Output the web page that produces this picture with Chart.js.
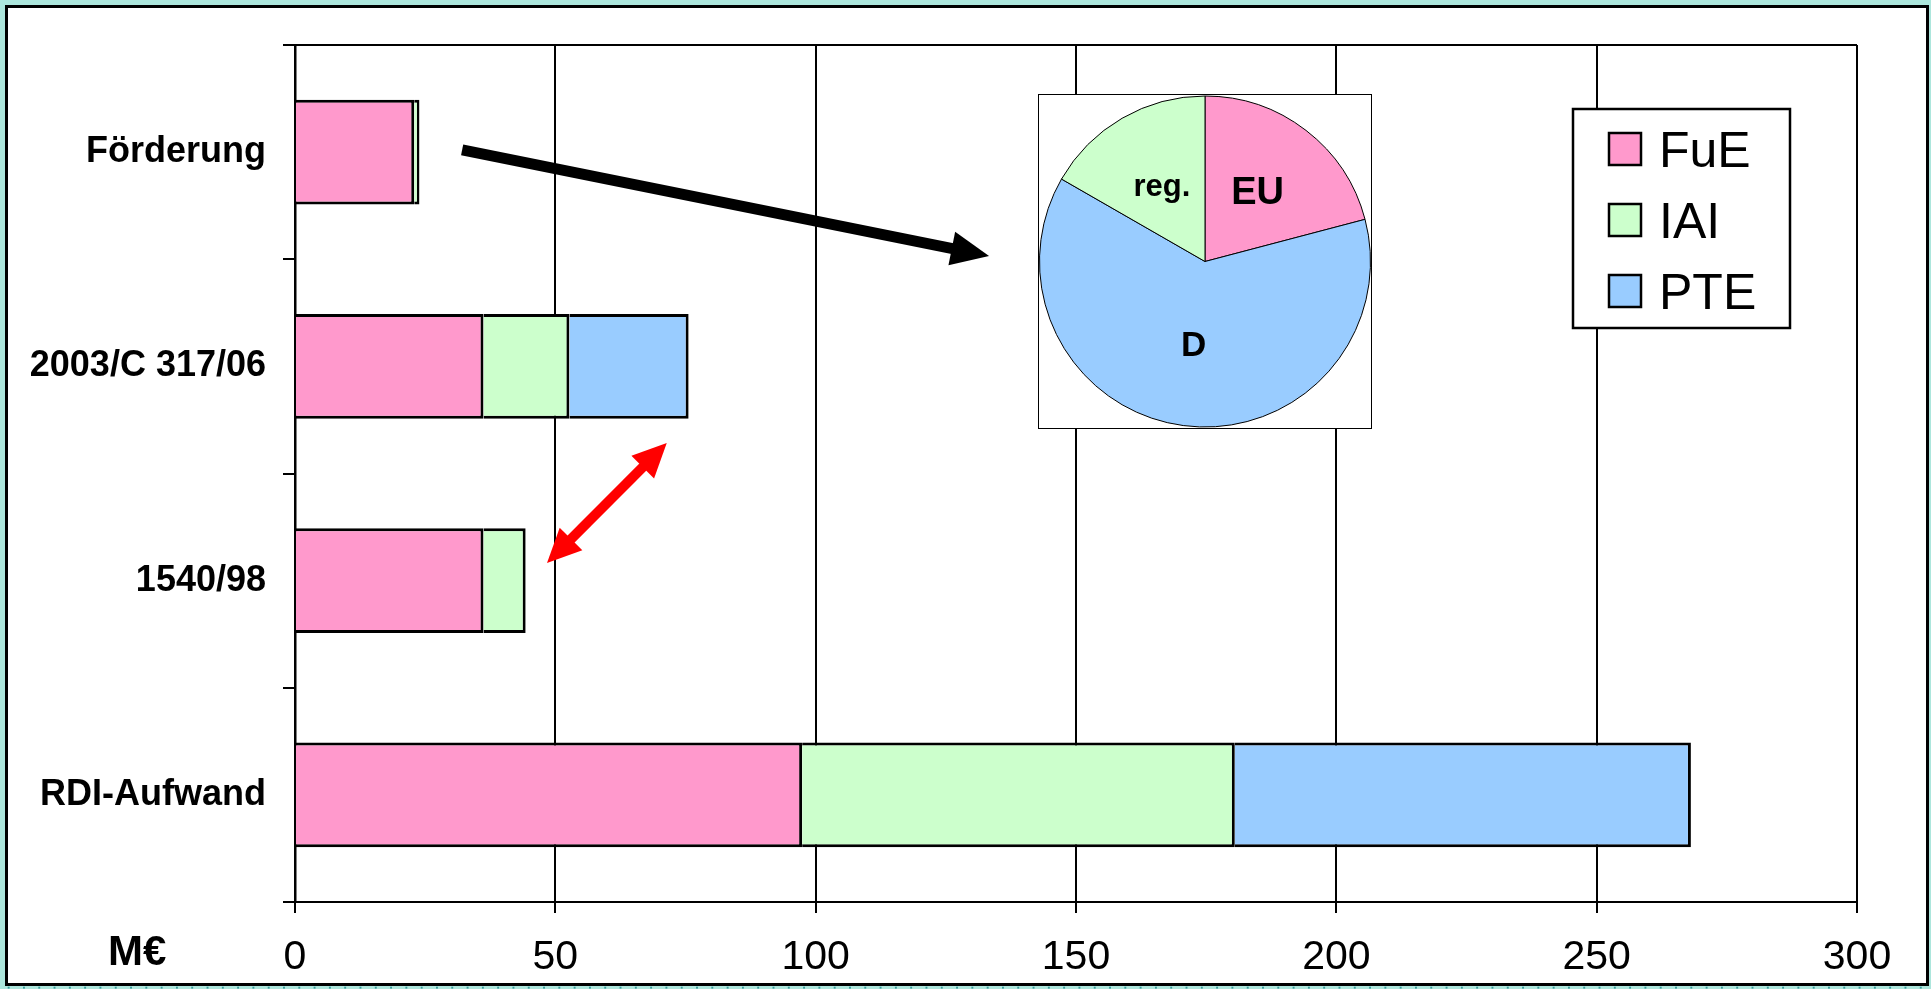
<!DOCTYPE html>
<html>
<head>
<meta charset="utf-8">
<script src="https://cdn.jsdelivr.net/npm/chart.js@4.4.1/dist/chart.umd.min.js"></script>
<style>
  html, body { margin: 0; padding: 0; width: 1931px; height: 989px; overflow: hidden; }
  body {
    background-color: #ace6dc;
    background-image: radial-gradient(circle, #3b9a9a 0.9px, transparent 1.4px);
    background-size: 15.3px 15.3px;
    background-position: 1px 1px;
    font-family: "Liberation Sans", Arial, sans-serif;
  }
  #frame { position: absolute; left: 5px; top: 5px; width: 1918px; height: 975px; border: 3px solid #000; background: #fff; }
  #main { position: absolute; left: 0; top: 0; }
  #pieBox { position: absolute; left: 1038px; top: 94px; width: 332px; height: 333px; border: 1px solid #000; background: #fff; z-index: 2; }
  #pie { display: block; }
</style>
</head>
<body>
<div id="frame"></div>
<canvas id="main" width="1931" height="989"></canvas>
<div id="pieBox"><canvas id="pie" width="332" height="333"></canvas></div>
<script>
// Funding categories (top to bottom) and stacked amounts in M€
const categories = ['Förderung', '2003/C 317/06', '1540/98', 'RDI-Aufwand'];
const seriesNames = ['FuE', 'IAI', 'PTE'];
const fueValues = [22.9, 36.2, 36.2, 97.4];
const iaiValues = [1.0, 16.5, 8.1, 83.1];
const pteValues = [null, 22.9, null, 87.6];
const xTickValues = [0, 50, 100, 150, 200, 250, 300];

// Funding sources share (inset pie)
const pieLabels = ['EU', 'D', 'reg.'];
const pieValues = [20.9, 62.4, 16.7];

const FONT = '"Liberation Sans", Arial, sans-serif';
const PINK = '#ff99cc', GREEN = '#ccffcc', BLUE = '#99ccff';
const seriesColors = [PINK, GREEN, BLUE];
const pieColors = [PINK, BLUE, GREEN];

// Arrow annotations in data space: x in M€, y as category index
const arrows = [
  { from: { x: 32.1, y: -0.01 }, to: { x: 133.3, y: 0.485 }, color: '#000000', shaft: 11, headLen: 38, headHalf: 17, both: false },
  { from: { x: 48.4, y: 1.918 }, to: { x: 71.4, y: 1.358 }, color: '#ff0000', shaft: 10, headLen: 34, headHalf: 16, both: true }
];

function arrowHead(ctx, tx, ty, ux, uy, len, half) {
  const bx = tx - ux * len, by = ty - uy * len;
  const px = -uy, py = ux;
  ctx.beginPath();
  ctx.moveTo(tx, ty);
  ctx.lineTo(bx + px * half, by + py * half);
  ctx.lineTo(bx - px * half, by - py * half);
  ctx.closePath();
  ctx.fill();
}

function drawArrow(ctx, x1, y1, x2, y2, a) {
  const dx = x2 - x1, dy = y2 - y1;
  const L = Math.hypot(dx, dy);
  const ux = dx / L, uy = dy / L;
  const sx = a.both ? x1 + ux * (a.headLen - 2) : x1;
  const sy = a.both ? y1 + uy * (a.headLen - 2) : y1;
  const ex = x2 - ux * (a.headLen - 2), ey = y2 - uy * (a.headLen - 2);
  ctx.save();
  ctx.strokeStyle = a.color;
  ctx.fillStyle = a.color;
  ctx.lineWidth = a.shaft;
  ctx.lineCap = 'butt';
  ctx.beginPath();
  ctx.moveTo(sx, sy);
  ctx.lineTo(ex, ey);
  ctx.stroke();
  arrowHead(ctx, x2, y2, ux, uy, a.headLen, a.headHalf);
  if (a.both) arrowHead(ctx, x1, y1, -ux, -uy, a.headLen, a.headHalf);
  ctx.restore();
}

const decorPlugin = {
  id: 'decor',
  afterDraw(chart) {
    const ctx = chart.ctx;
    const area = chart.chartArea;
    const xs = chart.scales.x, ys = chart.scales.y;

    // top edge of the plot box
    ctx.save();
    ctx.strokeStyle = '#000';
    ctx.lineWidth = 2;
    ctx.beginPath();
    ctx.moveTo(area.left - 12, area.top);
    ctx.lineTo(area.right, area.top);
    ctx.stroke();
    ctx.restore();

    // unit label
    ctx.save();
    ctx.fillStyle = '#000';
    ctx.font = 'bold 42px ' + FONT;
    ctx.textAlign = 'left';
    ctx.textBaseline = 'alphabetic';
    ctx.fillText('M€', 108, 965);
    ctx.restore();

    // arrows
    arrows.forEach(a => {
      drawArrow(ctx,
        xs.getPixelForValue(a.from.x), ys.getPixelForValue(a.from.y),
        xs.getPixelForValue(a.to.x), ys.getPixelForValue(a.to.y), a);
    });

    // legend box
    const box = { left: 1573, top: 109, width: 217, height: 219 };
    ctx.save();
    ctx.fillStyle = '#fff';
    ctx.fillRect(box.left, box.top, box.width, box.height);
    ctx.strokeStyle = '#000';
    ctx.lineWidth = 2.5;
    ctx.strokeRect(box.left, box.top, box.width, box.height);
    ctx.font = '50px ' + FONT;
    ctx.textAlign = 'left';
    ctx.textBaseline = 'alphabetic';
    chart.data.datasets.forEach((ds, i) => {
      const cy = 149 + i * 71;
      ctx.fillStyle = ds.backgroundColor;
      ctx.fillRect(1609, cy - 16, 32, 32);
      ctx.lineWidth = 2.5;
      ctx.strokeStyle = '#000';
      ctx.strokeRect(1609, cy - 16, 32, 32);
      ctx.fillStyle = '#000';
      ctx.fillText(ds.label, 1659, cy + 18);
    });
    ctx.restore();
  }
};

const mainChart = new Chart(document.getElementById('main'), {
  type: 'bar',
  data: {
    labels: categories,
    datasets: [fueValues, iaiValues, pteValues].map((vals, i) => ({
      label: seriesNames[i],
      data: vals,
      backgroundColor: seriesColors[i],
      borderColor: '#000',
      borderWidth: 3,
      borderSkipped: 'start',
      categoryPercentage: 0.49,
      barPercentage: 1.0
    }))
  },
  options: {
    indexAxis: 'y',
    responsive: false,
    animation: false,
    devicePixelRatio: 1,
    layout: { padding: { top: 45, right: 74, bottom: 0, left: 0 } },
    plugins: { legend: { display: false }, tooltip: { enabled: false } },
    scales: {
      x: {
        type: 'linear',
        stacked: true,
        position: 'bottom',
        min: 0,
        max: 300,
        afterBuildTicks(scale) { scale.ticks = xTickValues.map(v => ({ value: v })); },
        afterFit(scale) { scale.height = 87; },
        grid: { color: '#000', lineWidth: 2, tickLength: 11, drawTicks: true },
        border: { display: true, color: '#000', width: 2 },
        ticks: { color: '#000', font: { family: FONT, size: 41 }, padding: 20, maxRotation: 0 }
      },
      y: {
        type: 'category',
        stacked: true,
        afterFit(scale) { scale.width = 295; },
        grid: { offset: true, drawOnChartArea: false, color: '#000', lineWidth: 2, tickLength: 12 },
        border: { display: true, color: '#000', width: 2.5 },
        ticks: { color: '#000', font: { family: FONT, size: 36, weight: 'bold' }, padding: 17 }
      }
    }
  },
  plugins: [decorPlugin]
});

// Labels inside pie slices, placed along each slice's middle angle
const pieLabelPlugin = {
  id: 'pieLabels',
  afterDatasetsDraw(chart) {
    const ctx = chart.ctx;
    const sizes = [38, 35, 31];
    chart.getDatasetMeta(0).data.forEach((arc, i) => {
      const p = arc.getProps(['x', 'y', 'startAngle', 'endAngle', 'outerRadius']);
      const mid = (p.startAngle + p.endAngle) / 2;
      const r = p.outerRadius * 0.52;
      ctx.save();
      ctx.fillStyle = '#000';
      ctx.font = 'bold ' + sizes[i] + 'px ' + FONT;
      ctx.textAlign = 'center';
      ctx.textBaseline = 'middle';
      ctx.fillText(chart.data.labels[i], p.x + Math.cos(mid) * r, p.y + Math.sin(mid) * r);
      ctx.restore();
    });
  }
};

new Chart(document.getElementById('pie'), {
  type: 'pie',
  data: {
    labels: pieLabels,
    datasets: [{
      data: pieValues,
      backgroundColor: pieColors,
      borderColor: '#000',
      borderWidth: 1
    }]
  },
  options: {
    responsive: false,
    animation: false,
    devicePixelRatio: 1,
    layout: { padding: 0 },
    plugins: { legend: { display: false }, tooltip: { enabled: false } }
  },
  plugins: [pieLabelPlugin]
});
</script>
</body>
</html>
